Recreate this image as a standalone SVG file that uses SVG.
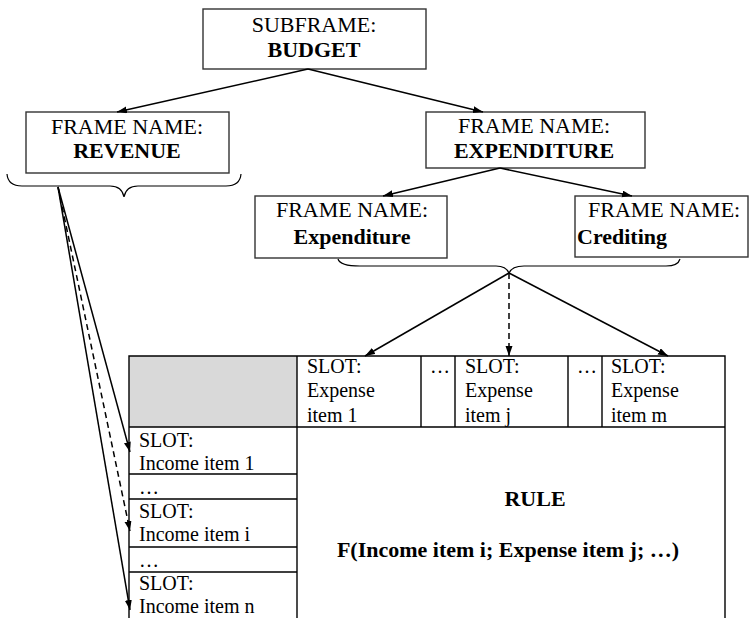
<svg xmlns="http://www.w3.org/2000/svg" width="749" height="618" viewBox="0 0 749 618">
  <defs>
    <marker id="arrow" markerWidth="11" markerHeight="8" refX="10" refY="3.5" orient="auto" markerUnits="userSpaceOnUse">
      <path d="M0,0 L10,3.5 L0,7 z" fill="#000"/>
    </marker>
    <style>
      .box { fill: #fff; stroke: #333; stroke-width: 1.4; }
      .cell { fill: none; stroke: #000; stroke-width: 1.4; }
      .t { font-family: "Liberation Serif", "Times New Roman", serif; fill: #000; }
      .h { font-size: 22px; }
      .b { font-weight: bold; }
      .s { font-size: 20px; }
      .c { text-anchor: middle; }
      .edge { fill: none; stroke: #000; stroke-width: 1.5; marker-end: url(#arrow); }
      .dash { stroke-dasharray: 6 4; }
      .brace { fill: none; stroke: #000; stroke-width: 1.2; }
    </style>
  </defs>
  <rect width="749" height="618" fill="#fff"/>

  <!-- frame hierarchy -->
  <g id="budget">
    <rect class="box" x="203" y="9" width="223" height="60"/>
    <text class="t h c" x="314" y="32">SUBFRAME:</text>
    <text class="t h b c" x="314" y="57">BUDGET</text>
  </g>
  <g id="revenue">
    <rect class="box" x="26" y="112" width="203" height="61"/>
    <text class="t h c" x="127" y="134">FRAME NAME:</text>
    <text class="t h b c" x="127" y="158">REVENUE</text>
    <path class="brace" d="M7,174 Q8,186 22,186 L110,186 Q122,186 124,197 Q126,186 138,186 L226,186 Q240,186 241,174"/>
  </g>
  <g id="expenditure-main">
    <rect class="box" x="426" y="112" width="219" height="56"/>
    <text class="t h c" x="534" y="133">FRAME NAME:</text>
    <text class="t h b c" x="534" y="158">EXPENDITURE</text>
  </g>
  <g id="expenditure">
    <rect class="box" x="255" y="196" width="192" height="62"/>
    <text class="t h c" x="352" y="217">FRAME NAME:</text>
    <text class="t h b c" x="352" y="244">Expenditure</text>
  </g>
  <g id="crediting">
    <rect class="box" x="575" y="196" width="173" height="61"/>
    <text class="t h" x="588" y="217">FRAME NAME:</text>
    <text class="t h b" x="577" y="244">Crediting</text>
  </g>
  <g id="sub-brace">
    <path class="brace" d="M338,259 Q340,266 360,266 L496,266 Q506,266 509,273 Q512,266 524,266 L666,266 Q678,266 680,259"/>
  </g>

  <!-- slot table -->
  <g id="table">
    <rect x="129" y="356" width="168" height="71" fill="#d9d9d9"/>
    <path class="cell" d="M129,618 L129,356 L725,356 L725,618 M297,356 L297,618 M129,427 L725,427 M421,356 L421,427 M455,356 L455,427 M568,356 L568,427 M602,356 L602,427 M129,474 L297,474 M129,499 L297,499 M129,547 L297,547 M129,572 L297,572"/>
  </g>
  <g id="expense-1">
    <text class="t s" x="307" y="373">SLOT:</text>
    <text class="t s" x="307" y="397">Expense</text>
    <text class="t s" x="307" y="422">item 1</text>
  </g>
  <g id="expense-gap-1"><text class="t s" x="430" y="373">…</text></g>
  <g id="expense-j">
    <text class="t s" x="465" y="373">SLOT:</text>
    <text class="t s" x="465" y="397">Expense</text>
    <text class="t s" x="465" y="422">item j</text>
  </g>
  <g id="expense-gap-2"><text class="t s" x="577" y="373">…</text></g>
  <g id="expense-m">
    <text class="t s" x="611" y="373">SLOT:</text>
    <text class="t s" x="611" y="397">Expense</text>
    <text class="t s" x="611" y="422">item m</text>
  </g>
  <g id="income-1">
    <text class="t s" x="139" y="447">SLOT:</text>
    <text class="t s" x="139" y="470">Income item 1</text>
  </g>
  <g id="income-gap-1"><text class="t s" x="139" y="494">…</text></g>
  <g id="income-i">
    <text class="t s" x="139" y="518">SLOT:</text>
    <text class="t s" x="139" y="541">Income item i</text>
  </g>
  <g id="income-gap-2"><text class="t s" x="139" y="567">…</text></g>
  <g id="income-n">
    <text class="t s" x="139" y="590">SLOT:</text>
    <text class="t s" x="139" y="613">Income item n</text>
  </g>
  <g id="rule">
    <text class="t h b c" x="535" y="506">RULE</text>
    <text class="t h b c" x="508" y="557">F(Income item i; Expense item j; …)</text>
  </g>

  <!-- connectors -->
  <g id="connectors">
    <line class="edge" x1="308" y1="69" x2="117" y2="112"/>
    <line class="edge" x1="308" y1="69" x2="483" y2="112"/>
    <line class="edge" x1="500" y1="168" x2="383" y2="196"/>
    <line class="edge" x1="500" y1="168" x2="632" y2="196"/>
    <line class="edge" x1="509" y1="273" x2="365" y2="356"/>
    <line class="edge dash" x1="509" y1="273" x2="509" y2="356"/>
    <line class="edge" x1="509" y1="273" x2="668" y2="356"/>
    <line class="edge" x1="58" y1="187" x2="130" y2="452"/>
    <line class="edge dash" x1="58" y1="187" x2="130" y2="531"/>
    <line class="edge" x1="58" y1="187" x2="130" y2="610"/>
  </g>
</svg>
